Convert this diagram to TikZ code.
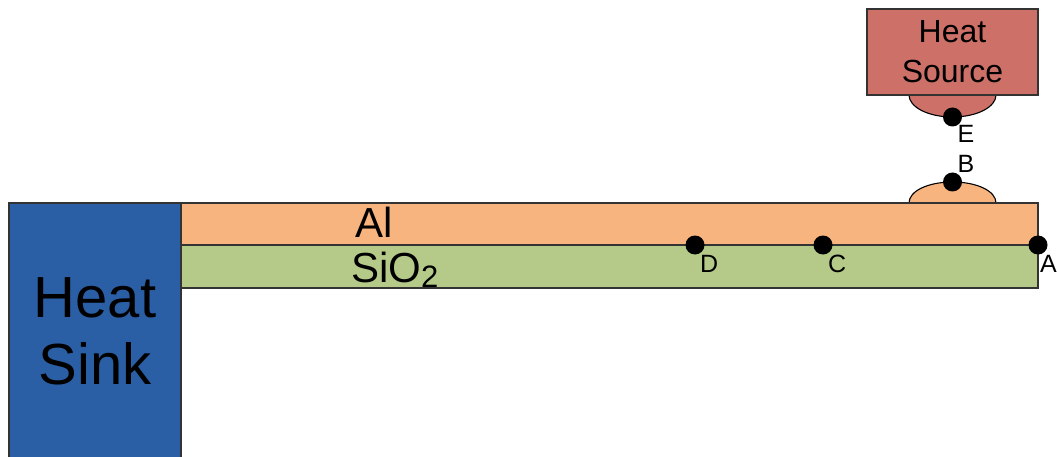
\documentclass[tikz,border=0pt]{standalone}
\usepackage{fontspec}
\setmainfont{Liberation Sans}
\definecolor{sinkblue}{RGB}{42,95,166}
\definecolor{alorange}{RGB}{247,180,126}
\definecolor{oxgreen}{RGB}{181,202,136}
\definecolor{srcred}{RGB}{205,112,104}
\begin{document}
\begin{tikzpicture}[x=1pt,y=-1pt,
  layer/.style={draw=black!80, line width=1.1pt, inner sep=0pt, outer sep=0pt, anchor=north west},
  bump/.style={draw=black, line width=1.1pt},
  dot/.style={circle, fill=black, inner sep=0pt, minimum size=19pt},
  lbl/.style={inner sep=0pt, font=\fontsize{25}{25}\selectfont, anchor=base west}]
\useasboundingbox (0,0) rectangle (1057,457);
% bumps
\draw[bump, fill=alorange] (909,203) .. controls (909,191) and (928,182) .. (952.5,182) .. controls (977,182) and (996,191) .. (996,203);
\draw[bump, fill=srcred] (909,95) .. controls (909,107) and (928,117) .. (952.5,117) .. controls (977,117) and (996,107) .. (996,95);
% heat sink
\node[layer, fill=sinkblue, minimum width=172pt, minimum height=256pt, align=center,
  font=\fontsize{58}{67}\selectfont] (sink) at (9,203) {Heat\\Sink};
% layers
\node[layer, fill=alorange, minimum width=857pt, minimum height=42pt] (al) at (181,203) {};
\node[layer, fill=oxgreen, minimum width=857pt, minimum height=43pt] (ox) at (181,245) {};
\node[inner sep=0pt, anchor=base west, font=\fontsize{42}{42}\selectfont] (altxt) at (355,237) {Al};
\node[inner sep=0pt, anchor=base west, font=\fontsize{42}{42}\selectfont] (oxtxt) at (351,282) {SiO\raisebox{-5pt}{\fontsize{31}{31}\selectfont 2}};
% heat source
\node[layer, fill=srcred, minimum width=171pt, minimum height=86pt, align=center,
  font=\fontsize{32}{40}\selectfont] (src) at (867,9) {Heat\\Source};
% points
\node[dot] (E) at (952.5,117) {};
\node[dot] (B) at (952.5,182) {};
\node[dot] (D) at (695,245) {};
\node[dot] (C) at (823,245) {};
\node[dot] (A) at (1038,245) {};
\node[lbl] (Elbl) at ([xshift=5pt, yshift=-26pt]E.center) {E};
\node[lbl] (Blbl) at ([xshift=5pt, yshift=9pt]B.center) {B};
\node[lbl] (Dlbl) at ([xshift=5pt, yshift=-27pt]D.center) {D};
\node[lbl] (Clbl) at ([xshift=5pt, yshift=-27pt]C.center) {C};
\node[lbl] (Albl) at ([xshift=2pt, yshift=-27pt]A.center) {A};
\end{tikzpicture}
\end{document}
